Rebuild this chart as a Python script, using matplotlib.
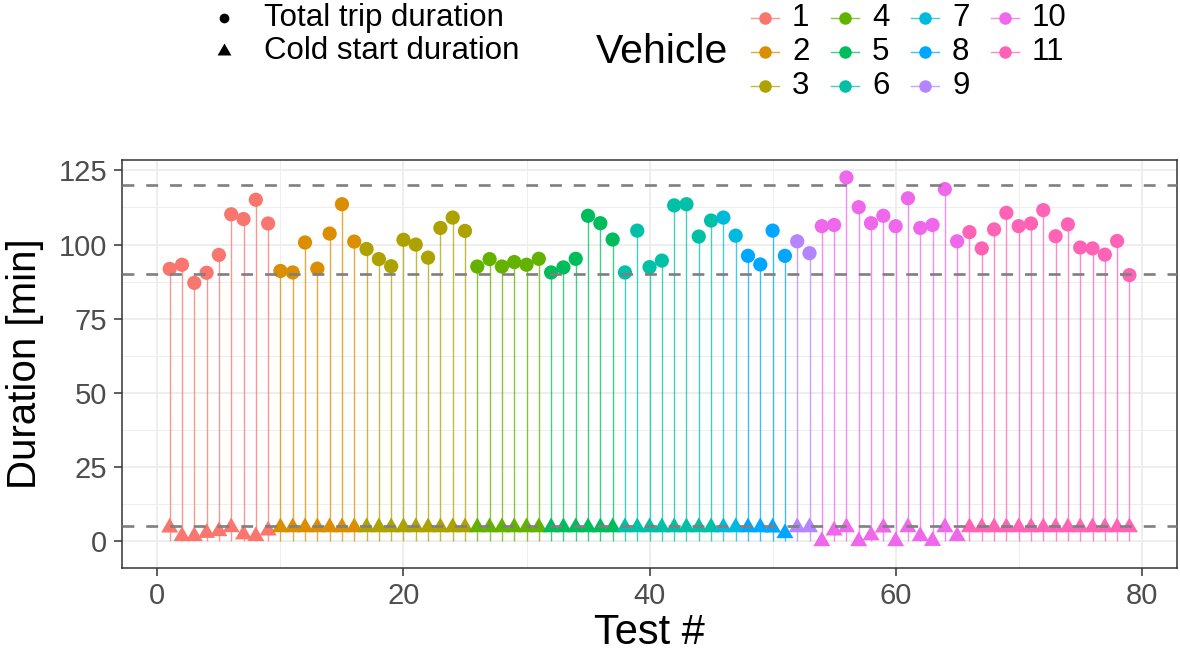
import numpy as np
import matplotlib.pyplot as plt

plt.rcParams['font.family'] = ['Liberation Sans', 'DejaVu Sans']

# 試験ごとの所要時間 [min]
total_duration = [
    91.8, 93.2, 87.1, 90.5, 96.5, 110.2, 108.6, 115.1, 107.1,
    91.1, 90.6, 100.7, 91.9, 103.7, 113.6, 101.0,
    98.5, 95.1, 92.7, 101.6, 100.0, 95.6, 105.6, 109.1, 104.6,
    92.6, 95.1, 92.6, 94.1, 93.2, 95.2,
    90.6, 92.3, 95.2, 109.7, 107.2, 101.7,
    90.6, 104.7, 92.4, 94.6, 113.2, 113.6, 102.7, 108.1,
    109.1, 103.0,
    96.2, 93.3, 104.7, 96.2,
    101.1, 97.1,
    106.2, 106.6, 122.6, 112.6, 107.2, 109.7, 106.2, 115.6, 105.6, 106.6, 118.7, 101.1,
    104.2, 98.7, 105.1, 110.7, 106.2, 107.1, 111.6, 102.8, 106.8, 99.0, 98.7, 96.6, 101.2, 89.7,
]
cold_start = [
    4.6, 1.7, 1.7, 2.8, 3.4, 4.7, 2.3, 1.7, 3.6,
    4.7, 4.7, 4.7, 4.7, 4.7, 4.7, 4.7,
    4.7, 4.7, 4.7, 4.7, 4.7, 4.7, 4.7, 4.7, 4.7,
    4.7, 4.7, 4.7, 4.7, 4.7, 4.7,
    4.7, 4.7, 4.7, 4.7, 4.7, 4.7,
    4.7, 4.7, 4.7, 4.7, 4.7, 4.7, 4.7, 4.7,
    4.7, 4.7,
    4.7, 4.7, 4.6, 2.7,
    4.7, 4.7,
    0.0, 3.6, 4.7, 0.0, 2.0, 4.6, 0.0, 4.7, 1.7, 0.1, 4.7, 1.7,
    4.7, 4.7, 4.7, 4.7, 4.7, 4.7, 4.7, 4.7, 4.7, 4.7, 4.7, 4.7, 4.7, 4.7,
]
vehicles = ['1', '2', '3', '4', '5', '6', '7', '8', '9', '10', '11']
tests_per_vehicle = [9, 7, 9, 6, 6, 8, 2, 4, 2, 12, 14]
thresholds = [5, 90, 120]

# ggplot2 の hue パレット (11色)
palette = ['#F8766D', '#DB8E00', '#AEA200', '#64B200', '#00BD5C', '#00C1A7',
           '#00BADE', '#00A6FF', '#B385FF', '#EF67EB', '#FF63B6']

test_no = np.arange(1, len(total_duration) + 1)
veh_idx = np.repeat(np.arange(len(vehicles)), tests_per_vehicle)
colors = [palette[i] for i in veh_idx]

# 重心が中心に来る三角形 (R の pch 17 相当)
tri = [(0, 1), (-0.866, -0.5), (0.866, -0.5)]

W, H = 1180, 653
fig = plt.figure(figsize=(W / 100, H / 100), dpi=100)
left, right, top, bottom = 121.7, 1177.4, 160.0, 567.7
ax = fig.add_axes([left / W, 1 - bottom / H, (right - left) / W, (bottom - top) / H])

ax.vlines(test_no, 0, total_duration, colors=colors, linewidth=1.0, alpha=0.75, zorder=2)
ax.scatter(test_no, cold_start, s=200, c=colors, marker=tri, linewidths=0, zorder=3)
ax.scatter(test_no, total_duration, s=105, c=colors, marker='o', linewidths=0, zorder=3)
for y in thresholds:
    ax.axhline(y, color='#7F7F7F', linewidth=1.9, linestyle=(0, (4.5, 4.5)),
               dash_capstyle='butt', zorder=4)

ax.set_xlim(-2.9, 82.9)
ax.set_ylim(-8.9, 128.5)
ax.set_xticks([0, 20, 40, 60, 80])
ax.set_xticks([10, 30, 50, 70], minor=True)
ax.set_yticks([0, 25, 50, 75, 100, 125])
ax.set_yticks([12.5, 37.5, 62.5, 87.5, 112.5], minor=True)
ax.grid(which='major', color='#EBEBEB', linewidth=1.2, zorder=0)
ax.grid(which='minor', color='#EBEBEB', linewidth=0.6, zorder=0)
ax.set_axisbelow(True)
ax.tick_params(which='major', length=5.5, width=1.1, color='#333333',
               labelsize=21, labelcolor='#4D4D4D', pad=5)
ax.tick_params(which='minor', length=0)
for sp in ax.spines.values():
    sp.set_color('#333333')
    sp.set_linewidth(1.1)

ax.set_xlabel('Test #', fontsize=30, va='center')
ax.xaxis.set_label_coords(0.5, (bottom - 633) / (bottom - top))
ax.set_ylabel('Duration [min]', fontsize=29, va='center')
ax.yaxis.set_label_coords((25 - left) / (right - left), 0.5)

# 凡例 (ピクセル座標で配置)
lax = fig.add_axes([0, 0, 1, 1])
lax.set_xlim(0, W)
lax.set_ylim(H, 0)
lax.axis('off')

lax.plot(224, 18, marker='o', ms=7, color='black', mew=0)
lax.plot(224, 51, marker=tri, ms=11.5, color='black', mew=0)
lax.text(264, 18, 'Total trip duration', fontsize=22.5, va='center', ha='left')
lax.text(264, 51, 'Cold start duration', fontsize=22.5, va='center', ha='left')

lax.text(596, 52, 'Vehicle', fontsize=29.5, va='center', ha='left')
col_x = [765, 845, 925, 1005]
row_y = [18, 52, 86]
for i, name in enumerate(vehicles):
    cx = col_x[i // 3]
    cy = row_y[i % 3]
    lax.plot([cx - 14, cx + 14], [cy, cy], color=palette[i], linewidth=1.0, alpha=0.75)
    lax.plot(cx, cy, marker='o', ms=9, color=palette[i], mew=0)
    lax.text(cx + 27, cy, name, fontsize=22.5, va='center', ha='left')

fig.savefig('out.png', dpi=100)
